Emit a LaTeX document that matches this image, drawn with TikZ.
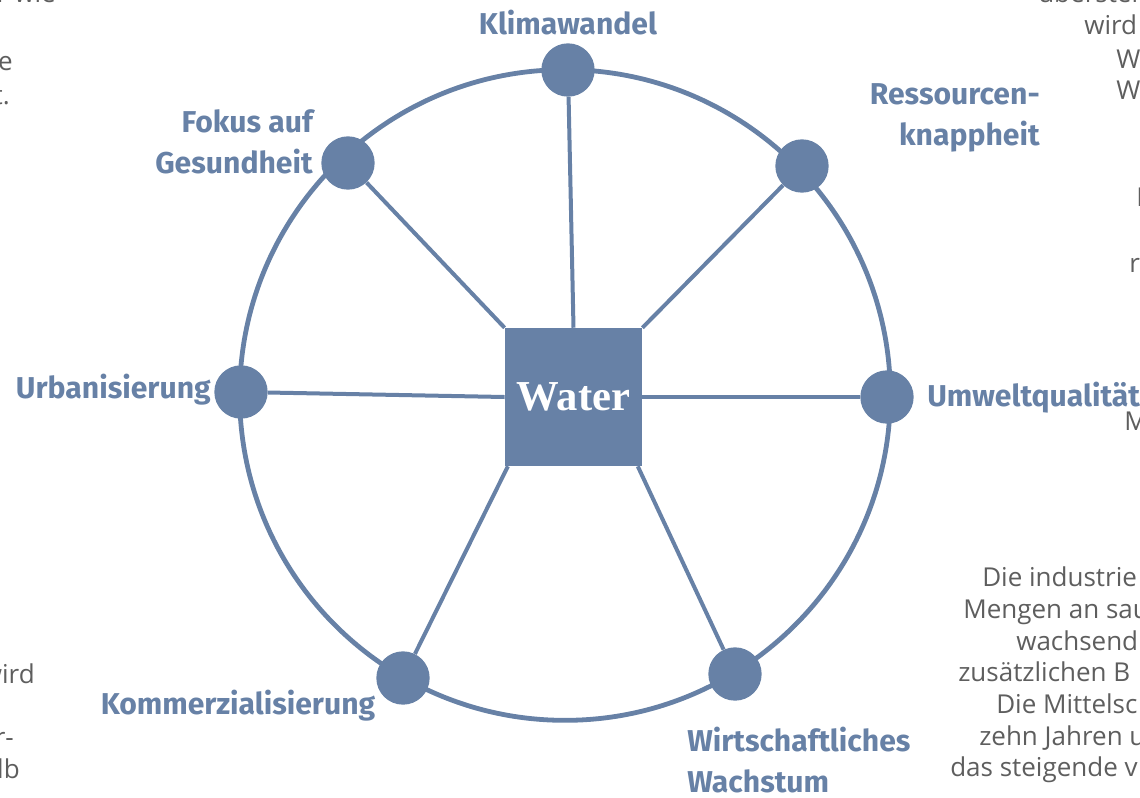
\documentclass[tikz,border=0pt]{standalone}
\usepackage{fontspec}
\setmainfont{Open Sans}
\newfontfamily\labfont{Fira Sans}
\newfontfamily\serfont{Liberation Serif}
\definecolor{wblue}{HTML}{6781A6}
\definecolor{bgtext}{HTML}{5E5E5E}
\begin{document}
\begin{tikzpicture}[x=0.75pt,y=-0.75pt,
  hub/.style={circle,fill=wblue,minimum size=40pt,inner sep=0pt},
  spoke/.style={draw=wblue,line width=3pt},
  ring/.style={draw=wblue,line width=3.6pt},
  lab/.style={text=wblue,font=\labfont\fontsize{22.6}{31}\selectfont\bfseries,inner sep=0pt},
  bg/.style={text=bgtext,font=\fontsize{19.5}{23}\selectfont,inner sep=0pt}]
\useasboundingbox (0,0) rectangle (1140,797);
\clip (0,0) rectangle (1140,797);
% background text fragments
\node[bg,anchor=base east] (t1) at (56,2) {r wie};
\node[bg,anchor=base east] (t2) at (13,70) {e};
\node[bg,anchor=base east] (t3) at (10,104) {t.};
\node[bg,anchor=base east] (t4) at (35,683) {wird};
\node[bg,anchor=base east] (t5) at (14,746) {r-};
\node[bg,anchor=base east] (t6) at (20,778) {lb};
\node[bg,anchor=base west] (r1) at (1038,2) {überstei};
\node[bg,anchor=base west] (r2) at (1084,34) {wird};
\node[bg,anchor=base west] (r3) at (1116,68) {W};
\node[bg,anchor=base west] (r4) at (1116,99) {W};
\node[bg,anchor=base west] (r5) at (1136,206) {I};
\node[bg,anchor=base west] (r6) at (1129,272) {r};
\node[bg,anchor=base west] (r7) at (1124,430) {M};
\node[bg,anchor=base west] (b1) at (982,586) {Die industrie};
\node[bg,anchor=base west] (b2) at (963,618) {Mengen an sau};
\node[bg,anchor=base west] (b3) at (1016,650) {wachsend};
\node[bg,anchor=base west] (b4) at (958,681) {zusätzlichen B};
\node[bg,anchor=base west] (b5) at (996,713) {Die Mittelsc};
\node[bg,anchor=base west] (b6) at (979,745) {zehn Jahren u};
\node[bg,anchor=base west] (b7) at (950,776) {das steigende v};
% ring
\coordinate (c) at (565,395);
\draw[ring] (c) circle (244pt);
% center box
\node[fill=wblue,minimum width=103pt,minimum height=103.5pt,inner sep=0pt,text=white,
  font=\serfont\fontsize{32}{36}\selectfont\bfseries] (w) at (573.5,397) {Water};
% hubs
\node[hub] (n1) at (568,70) {};
\node[hub] (n2) at (802,166) {};
\node[hub] (n3) at (887,397) {};
\node[hub] (n4) at (735,674) {};
\node[hub] (n5) at (403,678) {};
\node[hub] (n6) at (241,392) {};
\node[hub] (n7) at (348,163) {};
\draw[spoke] (w.north) ++(0,0) -- (n1);
\draw[spoke] (w.north east) -- (n2);
\draw[spoke] (w.east) -- (n3);
\draw[spoke] ([xshift=-3.5pt]w.south east) -- (n4);
\draw[spoke] ([xshift=2.5pt]w.south west) -- (n5);
\draw[spoke] (w.west) -- (n6);
\draw[spoke] (w.north west) -- (n7);
% labels
\node[lab] (l1) at (568,23) {Klimawandel};
\node[lab,align=right,anchor=east] (l2) at (1040,118) {Ressourcen-\\knappheit};
\node[lab,anchor=west] (l3) at (927,398) {Umweltqualität};
\node[lab,align=left,anchor=west] (l4) at (687,760) {Wirtschaftliches\\Wachstum};
\node[lab] (l5) at (238,706) {Kommerzialisierung};
\node[lab,anchor=east] (l6) at (211,390) {Urbanisierung};
\node[lab,align=right,anchor=east] (l7) at (313,142) {Fokus auf\\Gesundheit};
\end{tikzpicture}
\end{document}
